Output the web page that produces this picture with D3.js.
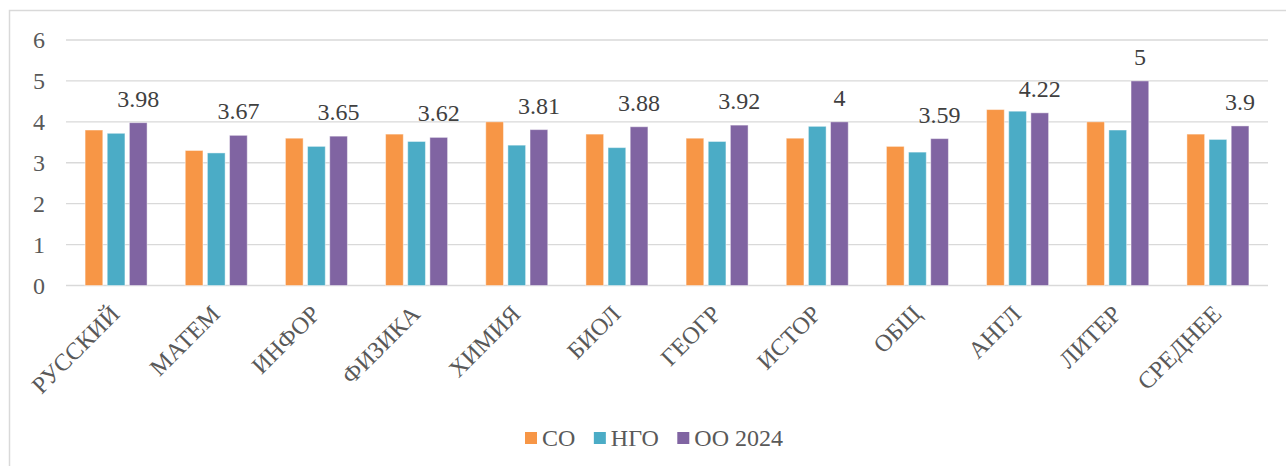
<!DOCTYPE html>
<html>
<head>
<meta charset="utf-8">
<script src="https://cdn.jsdelivr.net/npm/d3@7/dist/d3.min.js"></script>
<style>
  html, body { margin: 0; padding: 0; background: #fff; }
  svg { display: block; }
  text { font-family: "Liberation Serif", "Times New Roman", serif; }
</style>
</head>
<body>
<svg id="chart" width="1286" height="466"></svg>
<script>
const categories = ["РУССКИЙ", "МАТЕМ", "ИНФОР", "ФИЗИКА", "ХИМИЯ", "БИОЛ", "ГЕОГР", "ИСТОР", "ОБЩ", "АНГЛ", "ЛИТЕР", "СРЕДНЕЕ"];
const seriesNames = ["СО", "НГО", "ОО 2024"];
const valuesSO  = [3.8, 3.3, 3.6, 3.7, 4.0, 3.7, 3.6, 3.6, 3.4, 4.3, 4.0, 3.7];
const valuesNGO = [3.72, 3.24, 3.4, 3.52, 3.43, 3.37, 3.52, 3.89, 3.26, 4.26, 3.8, 3.57];
const valuesOO  = [3.98, 3.67, 3.65, 3.62, 3.81, 3.88, 3.92, 4, 3.59, 4.22, 5, 3.9];
const yTicks = [0, 1, 2, 3, 4, 5, 6];
const colors = ["#F79646", "#4BACC6", "#8064A2"];

const seriesValues = [valuesSO, valuesNGO, valuesOO];
const svg = d3.select("#chart");
const FONT = '"Liberation Serif", "Times New Roman", serif';

// outer border
svg.append("rect").attr("x", 9.5).attr("y", 10.5).attr("width", 1300).attr("height", 480)
  .attr("fill", "#fff").attr("stroke", "#d9d9d9").attr("stroke-width", 1.5);

const plotLeft = 66, plotRight = 1268, plotTop = 40, plotBottom = 285.5;
const x = d3.scaleBand().domain(categories).range([plotLeft, plotRight]).padding(0);
const x1 = d3.scaleBand().domain(seriesNames).range([-31, 31]).paddingInner(0.2);
const y = d3.scaleLinear().domain([0, 6]).range([plotBottom, plotTop]);

// gridlines
svg.append("g").selectAll("line").data(yTicks).join("line")
  .attr("x1", plotLeft).attr("x2", plotRight)
  .attr("y1", d => y(d)).attr("y2", d => y(d))
  .attr("stroke", "#d9d9d9").attr("stroke-width", 1.3);

// y axis labels
const yAxis = d3.axisLeft(y).tickValues(yTicks).tickSize(0).tickPadding(21).tickFormat(d3.format("d"));
const gy = svg.append("g").attr("transform", `translate(${plotLeft},0)`).call(yAxis);
gy.select(".domain").remove();
gy.selectAll("text").attr("font-size", 24).attr("fill", "#595959").style("font-family", FONT);

// bars
const groups = svg.append("g").selectAll("g").data(categories).join("g")
  .attr("transform", d => `translate(${x(d) + x.bandwidth() / 2},0)`);
groups.selectAll("rect").data((c, i) => seriesNames.map((s, k) => ({ s, k, v: seriesValues[k][i] })))
  .join("rect")
  .attr("x", d => x1(d.s)).attr("width", x1.bandwidth())
  .attr("y", d => y(d.v)).attr("height", d => y(0) - y(d.v))
  .attr("fill", d => colors[d.k])
  .attr("stroke", "#fff").attr("stroke-opacity", 0.45).attr("stroke-width", 1);

// data labels for OO 2024
groups.append("text")
  .attr("x", x1("ОО 2024") + x1.bandwidth() / 2)
  .attr("y", (c, i) => y(valuesOO[i]) - 16)
  .attr("text-anchor", "middle").attr("font-size", 24).attr("fill", "#404040")
  .style("font-family", FONT)
  .text((c, i) => String(valuesOO[i]));

// x axis labels
const xAxis = d3.axisBottom(x).tickSize(0);
const gx = svg.append("g").attr("transform", `translate(0,${plotBottom})`).call(xAxis);
gx.select(".domain").remove();
gx.selectAll(".tick text")
  .attr("y", 0).attr("dy", 0)
  .attr("transform", "translate(5,30) rotate(-45)")
  .attr("text-anchor", "end").attr("font-size", 24).attr("fill", "#595959")
  .style("font-family", FONT);

// legend
const lg = svg.append("g");
let lx = 525;
seriesNames.forEach((s, k) => {
  lg.append("rect").attr("x", lx).attr("y", 432).attr("width", 12).attr("height", 12).attr("fill", colors[k]);
  const t = lg.append("text").attr("x", lx + 17).attr("y", 446).attr("font-size", 24).attr("fill", "#595959")
    .style("font-family", FONT).text(s);
  lx += 17 + t.node().getComputedTextLength() + 18.5;
});
</script>
</body>
</html>
